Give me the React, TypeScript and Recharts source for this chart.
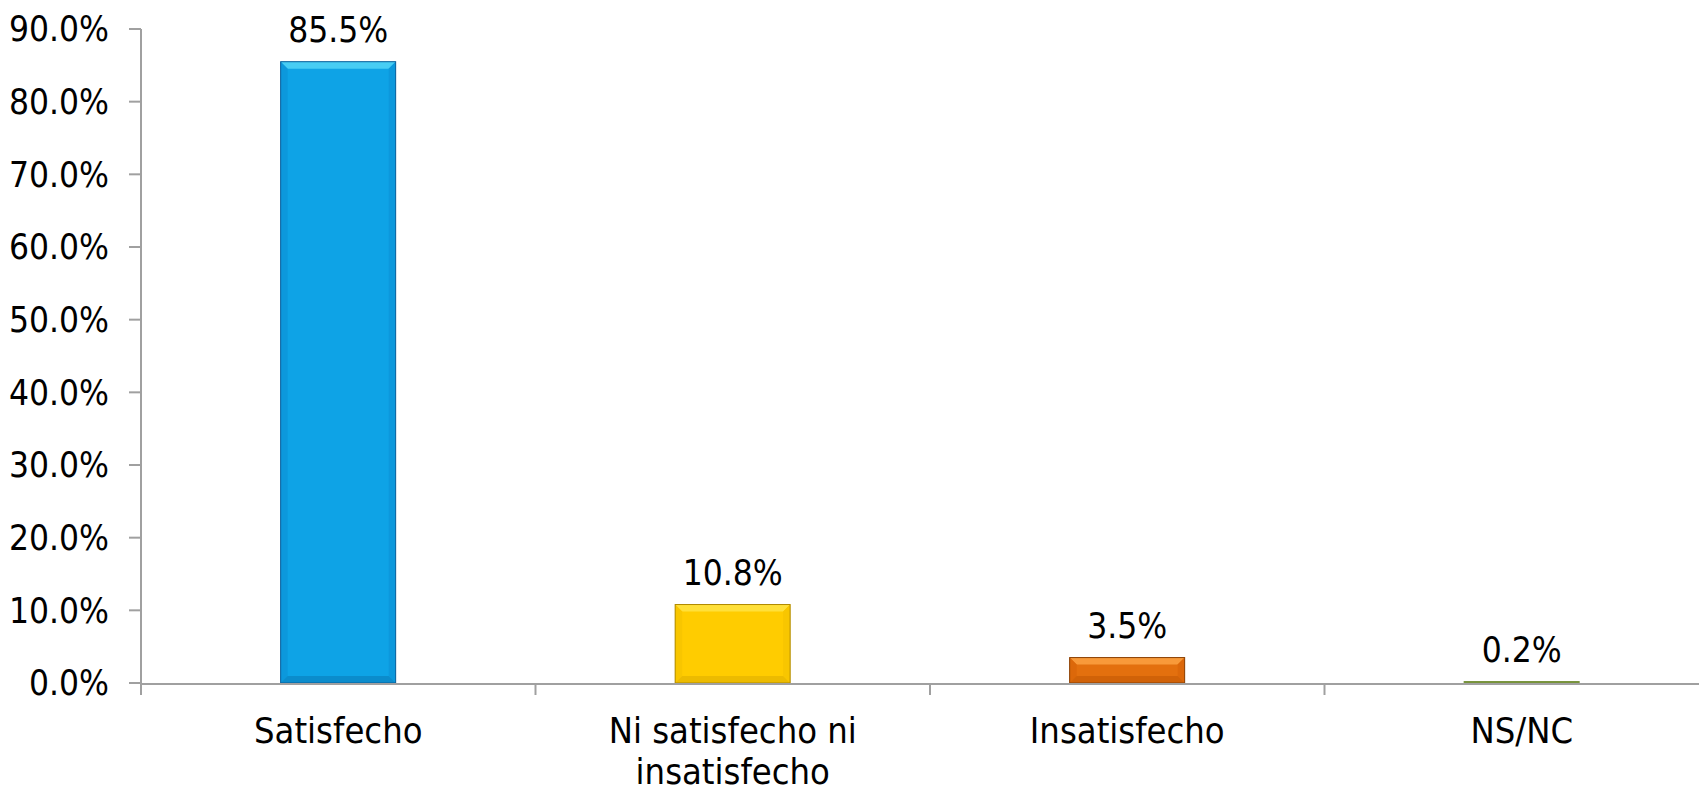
import { BarChart, Bar, XAxis, YAxis, LabelList } from 'recharts'

// survey results, percent of respondents
const categories = ['Satisfecho', 'Ni satisfecho ni insatisfecho', 'Insatisfecho', 'NS/NC']
const shares = [85.5, 10.8, 3.5, 0.2]
const yTicks = [0, 10, 20, 30, 40, 50, 60, 70, 80, 90]
const boundaryTicks = [0, 1, 2, 3, 4]

const data = categories.map((name, i) => ({ name, value: shares[i], slot: i + 0.5 }))

const FONT = '"DejaVu Sans Condensed", "DejaVu Sans", sans-serif'
const AXIS = '#a0a0a0'

const palette = [
  { base: '#0ea3e6', light: '#47cdf4', side: '#0c98dc', dark: '#0b8ccc', edge: '#0b5f9a' },
  { base: '#ffcc00', light: '#ffe03a', side: '#f8c600', dark: '#ecbb00', edge: '#b08a00' },
  { base: '#e3700e', light: '#f89a3a', side: '#dc680a', dark: '#d06208', edge: '#8a4005' },
  { base: '#77933c', light: '#8fab55', side: '#77933c', dark: '#667f33', edge: '#77933c' },
]

// greedy word wrap by character count
const wrap = (s: string, max = 16) => {
  const lines: string[] = []
  let cur = ''
  for (const w of s.split(' ')) {
    const next = cur ? `${cur} ${w}` : w
    if (next.length > max && cur) {
      lines.push(cur)
      cur = w
    } else cur = next
  }
  if (cur) lines.push(cur)
  return lines
}

const BevelBar = (props: any) => {
  const { x, y, width, height, index } = props
  const c = palette[index]
  if (!height || height <= 0) return null
  const b = Math.min(7, height / 3, width / 3)
  const r = x + width
  const bt = y + height
  return (
    <g>
      <rect x={x} y={y} width={width} height={height} fill={c.base} />
      {height > 4 && (
        <>
          <polygon points={`${x},${y} ${r},${y} ${r - b},${y + b} ${x + b},${y + b}`} fill={c.light} />
          <polygon points={`${x},${y} ${x + b},${y + b} ${x + b},${bt - b} ${x},${bt}`} fill={c.side} />
          <polygon points={`${r},${y} ${r - b},${y + b} ${r - b},${bt - b} ${r},${bt}`} fill={c.side} />
          <polygon points={`${x},${bt} ${x + b},${bt - b} ${r - b},${bt - b} ${r},${bt}`} fill={c.dark} />
        </>
      )}
      <rect x={x} y={y} width={width} height={height} fill="none" stroke={c.edge} strokeWidth={1} />
    </g>
  )
}

const CategoryTick = (props: any) => {
  const { x, y, payload } = props
  const lines = wrap(String(payload.value))
  return (
    <text x={x} y={y} textAnchor="middle" fontSize={36} fontFamily={FONT} fill="#000">
      {lines.map((l, i) => (
        <tspan key={i} x={x} dy={i === 0 ? 26 : 41}>
          {l}
        </tspan>
      ))}
    </text>
  )
}

const NoLabel = () => <g />

export default function App() {
  return (
    <div style={{ width: 1699, height: 779, overflow: 'hidden' }}>
      <BarChart
        width={1711}
        height={779}
        data={data}
        margin={{ top: 21, right: 0, bottom: 0, left: 0 }}
        barCategoryGap="35.4%"
      >
        <XAxis
          xAxisId="bounds"
          type="number"
          dataKey="slot"
          domain={[0, 4]}
          ticks={boundaryTicks}
          allowDataOverflow
          height={1}
          axisLine={false}
          tick={<NoLabel />}
          tickSize={12}
          tickLine={{ stroke: AXIS, strokeWidth: 2 }}
        />
        <XAxis
          xAxisId="cat"
          dataKey="name"
          height={103}
          interval={0}
          axisLine={{ stroke: AXIS, strokeWidth: 2 }}
          tickLine={false}
          tickSize={0}
          tickMargin={33}
          tick={<CategoryTick />}
        />
        <YAxis
          width={133}
          domain={[0, 90]}
          ticks={yTicks}
          interval={0}
          axisLine={{ stroke: AXIS, strokeWidth: 2 }}
          tickLine={{ stroke: AXIS, strokeWidth: 2 }}
          tickSize={12}
          tickMargin={20}
          tickFormatter={(v: number) => `${v.toFixed(1)}%`}
          tick={{ fontSize: 35, fontFamily: FONT, fill: '#000' }}
        />
        <Bar xAxisId="cat" dataKey="value" isAnimationActive={false} shape={<BevelBar />}>
          <LabelList
            dataKey="value"
            position="top"
            offset={20}
            formatter={(v: any) => `${Number(v).toFixed(1)}%`}
            style={{ fontSize: 35, fontFamily: FONT, fill: '#000' }}
          />
        </Bar>
      </BarChart>
    </div>
  )
}
